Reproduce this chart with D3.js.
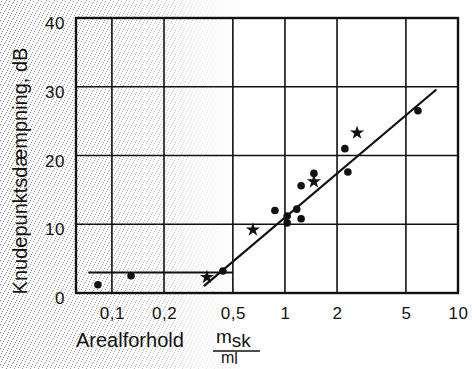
<!DOCTYPE html>
<html>
<head>
<meta charset="utf-8">
<script src="https://cdn.jsdelivr.net/npm/d3@7"></script>
<style>
  html, body { margin: 0; padding: 0; background: #fff; }
  svg { display: block; }
  text { font-family: "Liberation Sans", Arial, Helvetica, sans-serif; fill: #111; }
</style>
</head>
<body>
<svg id="chart" width="472" height="369"></svg>
<script>
// Measured joints: area ratio m_sk/m_l vs. junction attenuation (dB)
const circleRatio = [0.083, 0.129, 0.438, 0.875, 1.03, 1.03, 1.17, 1.24, 1.24, 1.47, 2.22, 2.31, 5.87];
const circleDb    = [1.2,   2.5,   3.2,   12.0,  11.2, 10.2, 12.2, 10.8, 15.6, 17.4, 21.0, 17.6, 26.5];
const starRatio   = [0.354, 0.653, 1.47, 2.61];
const starDb      = [2.3,   9.2,   16.2, 23.3];

// Fitted curve: flat part and rising part
const flatRatio  = [0.073, 0.5];
const flatDb     = [3.0, 3.0];
const riseRatio  = [0.34, 7.5];
const riseDb     = [1.0, 29.6];

// Axis ticks
const xTicks = [0.1, 0.2, 0.5, 1, 2, 5, 10];
const xTickLabels = ["0,1", "0,2", "0,5", "1", "2", "5", "10"];
const yTicks = [0, 10, 20, 30, 40];

const svg = d3.select("#chart");
const W = 472, H = 369;
const mLeft = 76, mRight = 458, mTop = 18, mBottom = 293;

const x = d3.scaleLog().domain([0.062, 10]).range([mLeft, mRight]);
const y = d3.scaleLinear().domain([0, 40]).range([mBottom, mTop]);

// halftone stipple on the left side of the sheet
const defs = svg.append("defs");
const pat = defs.append("pattern").attr("id", "stip")
  .attr("width", 8).attr("height", 8).attr("patternUnits", "userSpaceOnUse");
[[1,1],[5,2],[3,5],[7,6],[0,4],[6,0],[2,7],[4,3]].forEach(([px, py]) =>
  pat.append("rect").attr("x", px).attr("y", py).attr("width", 1).attr("height", 1).attr("fill", "#8a8a8a"));
const grad = defs.append("linearGradient").attr("id", "fade")
  .attr("x1", "0").attr("x2", "1").attr("y1", "0").attr("y2", "0");
grad.append("stop").attr("offset", "0").attr("stop-color", "#fff").attr("stop-opacity", 1);
grad.append("stop").attr("offset", "0.5").attr("stop-color", "#fff").attr("stop-opacity", 0.7);
grad.append("stop").attr("offset", "1").attr("stop-color", "#fff").attr("stop-opacity", 0);
defs.append("mask").attr("id", "fadeMask")
  .append("rect").attr("x", 0).attr("y", 0).attr("width", 250).attr("height", H).attr("fill", "url(#fade)");
svg.append("rect").attr("x", 0).attr("y", 0).attr("width", 250).attr("height", H)
  .attr("fill", "url(#stip)").attr("mask", "url(#fadeMask)");

// grid
const g = svg.append("g");
g.selectAll("line.vx").data(xTicks.filter(d => d < 10)).join("line")
  .attr("x1", d => x(d)).attr("x2", d => x(d)).attr("y1", mTop).attr("y2", mBottom)
  .attr("stroke", "#111").attr("stroke-width", 1.6);
g.selectAll("line.hy").data(yTicks.filter(d => d > 0 && d < 40)).join("line")
  .attr("x1", mLeft).attr("x2", mRight).attr("y1", d => y(d)).attr("y2", d => y(d))
  .attr("stroke", "#111").attr("stroke-width", 1.6);
g.append("rect").attr("x", mLeft).attr("y", mTop).attr("width", mRight - mLeft).attr("height", mBottom - mTop)
  .attr("fill", "none").attr("stroke", "#111").attr("stroke-width", 2.4);

// axes (labels only; grid drawn above)
const xAxis = d3.axisBottom(x).tickValues(xTicks).tickFormat((d, i) => xTickLabels[i]).tickSize(0).tickPadding(14);
const ax = svg.append("g").attr("transform", `translate(0,${mBottom})`).call(xAxis);
ax.select(".domain").remove();
ax.selectAll("text").attr("font-size", 17).attr("letter-spacing", 0.5)
  .attr("font-family", "'Liberation Sans', Arial, sans-serif").attr("fill", "#111");

const yAxis = d3.axisLeft(y).tickValues(yTicks).tickSize(0).tickPadding(11);
const ay = svg.append("g").attr("transform", `translate(${mLeft},0)`).call(yAxis);
ay.select(".domain").remove();
ay.selectAll("text").attr("font-size", 17).attr("letter-spacing", 0.6).attr("dy", "0.62em")
  .attr("font-family", "'Liberation Sans', Arial, sans-serif").attr("fill", "#111");

// fitted lines
const line = d3.line().x(d => x(d[0])).y(d => y(d[1]));
svg.append("path").attr("d", line(d3.zip(flatRatio, flatDb)))
  .attr("fill", "none").attr("stroke", "#111").attr("stroke-width", 2);
svg.append("path").attr("d", line(d3.zip(riseRatio, riseDb)))
  .attr("fill", "none").attr("stroke", "#111").attr("stroke-width", 2.2);

// measurement points
svg.selectAll("circle.pt").data(d3.zip(circleRatio, circleDb)).join("circle")
  .attr("cx", d => x(d[0])).attr("cy", d => y(d[1])).attr("r", 3.8).attr("fill", "#111");
const star = d3.symbol().type(d3.symbolStar).size(62);
svg.selectAll("path.st").data(d3.zip(starRatio, starDb)).join("path")
  .attr("d", star).attr("transform", d => `translate(${x(d[0])},${y(d[1])})`).attr("fill", "#111");

// axis titles
svg.append("text").attr("transform", "translate(27,171) rotate(-90)")
  .attr("text-anchor", "middle").attr("font-size", 20)
  .text("Knudepunktsdæmpning, dB");
svg.append("text").attr("x", 76).attr("y", 347).attr("font-size", 20).text("Arealforhold");
const frac = svg.append("g");
frac.append("text").attr("x", 216).attr("y", 343).attr("font-size", 19)
  .text("m").append("tspan").attr("dy", 4).attr("font-size", 19).text("sk");
frac.append("line").attr("x1", 213).attr("x2", 260).attr("y1", 351).attr("y2", 351)
  .attr("stroke", "#111").attr("stroke-width", 1.6);
frac.append("text").attr("x", 221).attr("y", 363).attr("font-size", 16)
  .text("m").append("tspan").attr("dy", 1).attr("font-size", 16).text("l");
</script>
</body>
</html>
